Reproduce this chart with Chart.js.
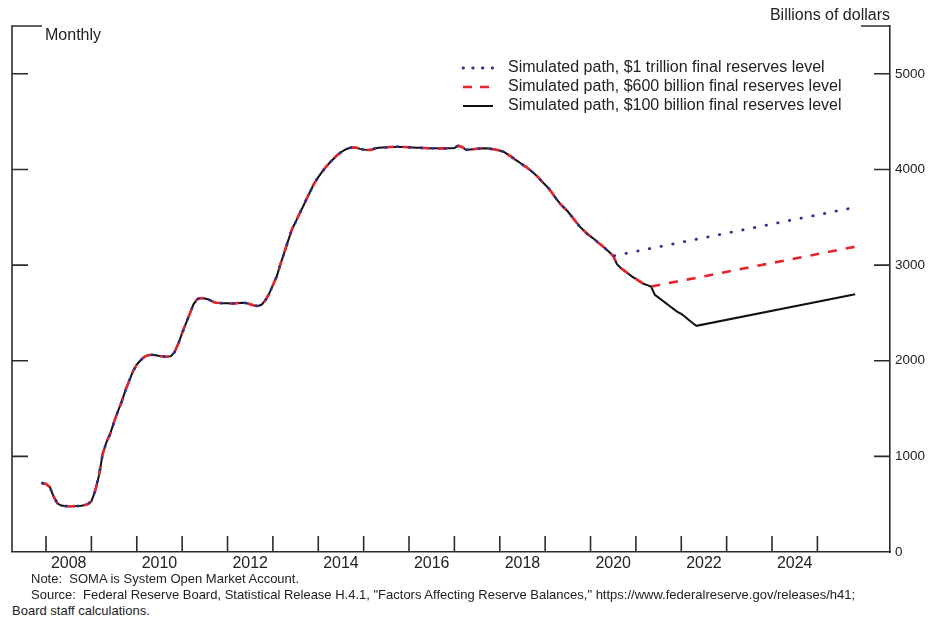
<!DOCTYPE html>
<html>
<head>
<meta charset="utf-8">
<script src="https://cdn.jsdelivr.net/npm/chart.js@4/dist/chart.umd.min.js"></script>
<style>
  body { margin: 0; background: #fff; font-family: Arial, "Liberation Sans", sans-serif; color: #222; }
  #wrap { position: relative; width: 937px; height: 619px; overflow: hidden; }
  #chartBox { position: absolute; left: 0; top: 0; width: 937px; height: 575px; }
  .note { position: absolute; font-size: 13px; line-height: 16px; white-space: pre; }
</style>
</head>
<body>
<div id="wrap">
  <div id="chartBox"><canvas id="somaChart"></canvas></div>
  <div class="note" style="left:31px; top:571px;">Note:  SOMA is System Open Market Account.</div>
  <div class="note" style="left:31px; top:587px;">Source:  Federal Reserve Board, Statistical Release H.4.1, "Factors Affecting Reserve Balances," https://www.federalreserve.gov/releases/h41;</div>
  <div class="note" style="left:12px; top:603px;">Board staff calculations.</div>
</div>
<script>
// SOMA holdings, billions of dollars, monthly from Dec 2007
const historyStart = '2007-12';
const somaHistory = [
  720,
  712, 680, 580, 510, 485, 480, 479, 479, 480, 482, 488, 500,          // 2008
  530, 640, 800, 1030, 1150, 1240, 1360, 1470, 1570, 1690, 1790, 1890,  // 2009
  1960, 2005, 2040, 2058, 2062, 2058, 2050, 2045, 2042, 2048, 2090, 2180, // 2010
  2290, 2390, 2490, 2590, 2645, 2655, 2650, 2640, 2620, 2607, 2603, 2600, // 2011
  2600, 2598, 2600, 2604, 2607, 2602, 2590, 2578, 2572, 2585, 2630, 2700, // 2012
  2790, 2880, 3010, 3130, 3250, 3370, 3450, 3535, 3615, 3700, 3780, 3860, // 2013
  3920, 3975, 4025, 4070, 4110, 4150, 4180, 4205, 4222, 4230, 4228, 4215, // 2014
  4208, 4203, 4205, 4220, 4228, 4230, 4232, 4234, 4236, 4238, 4236, 4234, // 2015
  4232, 4230, 4228, 4226, 4224, 4222, 4221, 4221, 4220, 4220, 4221, 4222, // 2016
  4225, 4248, 4235, 4205, 4208, 4212, 4216, 4220, 4221, 4218, 4213, 4207, // 2017
  4198, 4185, 4160, 4135, 4105, 4080, 4050, 4025, 3995, 3960, 3925, 3880, // 2018
  3840, 3800, 3745, 3690, 3640, 3600, 3560, 3510, 3460, 3410, 3370, 3330, // 2019
  3300, 3270, 3235, 3205, 3170, 3135, 3095, 3010, 2970, 2940, 2910, 2880, // 2020
  2855, 2830, 2805, 2790, 2775, 2690, 2660, 2630, 2600, 2570, 2540, 2510, // 2021
  2490, 2460, 2425, 2395, 2365                                           // 2022
];

// simulated paths: last month shared with history, then a straight run to the end value
const pathLabels = [
  'Simulated path, $1 trillion final reserves level',
  'Simulated path, $600 billion final reserves level',
  'Simulated path, $100 billion final reserves level'
];
const pathBranch = ['2020-07', '2021-05', '2022-05'];
const pathEnd = ['2025-11', '2025-11', '2025-11'];
const pathEndValue = [3604, 3192, 2694];

const yearLabels = [2008, 2010, 2012, 2014, 2016, 2018, 2020, 2022, 2024];
const tickYears = [2008, 2009, 2010, 2011, 2012, 2013, 2014, 2015, 2016,
                   2017, 2018, 2019, 2020, 2021, 2022, 2023, 2024, 2025];
const yTicks = [0, 1000, 2000, 3000, 4000, 5000];
const xMin = 2007.25, xMax = 2026.6;
const yMax = 5500;

const fontFamily = 'Arial, "Liberation Sans", sans-serif';
const axisColor = '#2b2b2b';
const textColor = '#222';
const pathStyles = [
  { color: '#2d3192', width: 2.8, dash: [0.5, 11.4], keyDash: [0.5, 9.2], cap: 'round' },
  { color: '#e3262b', width: 2.6, dash: [9, 9], keyDash: [9, 8], cap: 'butt' },
  { color: '#111111', width: 2, dash: [], keyDash: [], cap: 'butt' }
];

function toYear(ym) {
  const [y, m] = ym.split('-').map(Number);
  return y + (m - 1) / 12;
}

const startX = toYear(historyStart);
const historyPoints = somaHistory.map((v, i) => ({ x: startX + i / 12, y: v }));

const datasets = pathLabels.map((label, i) => {
  const branchX = toYear(pathBranch[i]);
  const shared = historyPoints.filter(p => p.x <= branchX + 1e-6);
  const st = pathStyles[i];
  return {
    label,
    data: shared.concat([{ x: toYear(pathEnd[i]), y: pathEndValue[i] }]),
    borderColor: st.color,
    borderWidth: st.width,
    borderDash: st.dash,
    borderCapStyle: st.cap,
    pointRadius: 0,
    tension: 0,
    fill: false
  };
});

// left edge, top corner caps and inward tick marks
const frame = {
  id: 'frame',
  beforeDatasetsDraw(chart) {
    const { ctx, chartArea: a, scales: { x, y } } = chart;
    ctx.save();
    ctx.strokeStyle = axisColor;
    ctx.lineWidth = 1.6;
    ctx.beginPath();
    ctx.moveTo(a.left + 30, a.top);
    ctx.lineTo(a.left, a.top);
    ctx.lineTo(a.left, a.bottom);
    ctx.moveTo(a.right - 29, a.top);
    ctx.lineTo(a.right, a.top);
    tickYears.forEach(yr => {
      const px = x.getPixelForValue(yr);
      ctx.moveTo(px, a.bottom);
      ctx.lineTo(px, a.bottom - 16);
    });
    yTicks.slice(1).forEach(v => {
      const py = y.getPixelForValue(v);
      ctx.moveTo(a.left, py);
      ctx.lineTo(a.left + 16, py);
      ctx.moveTo(a.right, py);
      ctx.lineTo(a.right - 16, py);
    });
    ctx.stroke();
    ctx.restore();
  }
};

// key, frequency note and unit label
const keyAndLabels = {
  id: 'keyAndLabels',
  afterDraw(chart) {
    const { ctx, chartArea: a } = chart;
    ctx.save();
    ctx.fillStyle = textColor;
    ctx.font = '16px ' + fontFamily;
    ctx.textBaseline = 'middle';
    ctx.textAlign = 'left';
    ctx.fillText('Monthly', a.left + 33, a.top + 10);
    ctx.textAlign = 'right';
    ctx.fillText('Billions of dollars', a.right, 16);

    const lx = a.right - 427;
    chart.data.datasets.forEach((ds, i) => {
      const ry = a.top + 42 + i * 19;
      ctx.save();
      ctx.strokeStyle = ds.borderColor;
      ctx.lineWidth = ds.borderWidth;
      ctx.setLineDash(pathStyles[i].keyDash);
      ctx.lineCap = ds.borderCapStyle;
      ctx.beginPath();
      ctx.moveTo(lx, ry);
      ctx.lineTo(lx + 30, ry);
      ctx.stroke();
      ctx.restore();
      ctx.textAlign = 'left';
      ctx.fillText(ds.label, lx + 45, ry);
    });
    ctx.restore();
  }
};

new Chart(document.getElementById('somaChart'), {
  type: 'line',
  data: { datasets },
  options: {
    responsive: true,
    maintainAspectRatio: false,
    animation: false,
    layout: { padding: { left: 12, top: 26, right: 0, bottom: 0 } },
    plugins: { legend: { display: false }, tooltip: { enabled: false } },
    scales: {
      x: {
        type: 'linear',
        min: xMin,
        max: xMax,
        grid: { display: false, drawTicks: false },
        border: { display: true, color: axisColor, width: 1.6 },
        afterBuildTicks: s => { s.ticks = yearLabels.map(yr => ({ value: yr + 0.5 })); },
        afterFit: s => { s.height = 23; },
        ticks: {
          autoSkip: false,
          maxRotation: 0,
          padding: 2,
          color: textColor,
          font: { family: fontFamily, size: 16 },
          callback: v => String(Math.floor(v))
        }
      },
      y: {
        position: 'right',
        min: 0,
        max: yMax,
        grid: { display: false, drawTicks: false },
        border: { display: true, color: axisColor, width: 1.6 },
        afterBuildTicks: s => { s.ticks = yTicks.map(v => ({ value: v })); },
        afterFit: s => { s.width = 47; },
        ticks: {
          padding: 5,
          color: textColor,
          font: { family: fontFamily, size: 13.5 },
          callback: v => String(v)
        }
      }
    }
  },
  plugins: [frame, keyAndLabels]
});
</script>
</body>
</html>
